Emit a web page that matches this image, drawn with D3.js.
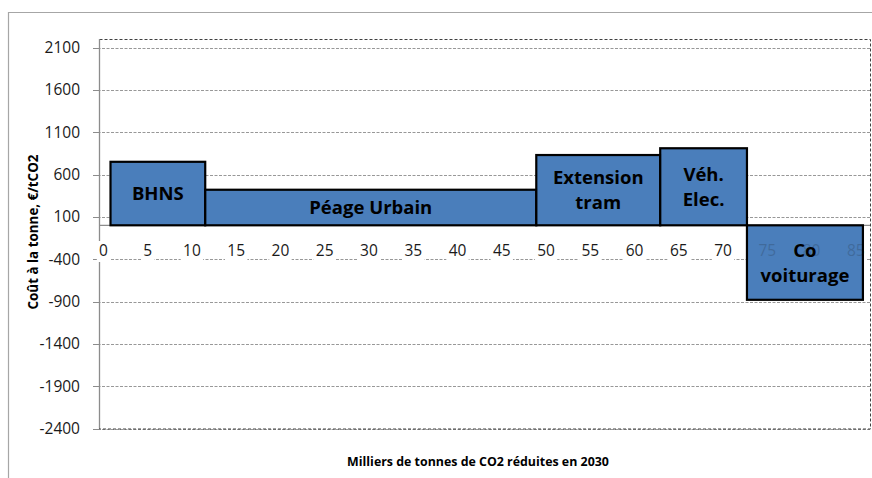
<!DOCTYPE html>
<html>
<head>
<meta charset="utf-8">
<script src="https://cdn.jsdelivr.net/npm/d3@7"></script>
<style>
  body { margin: 0; background: #fff; }
  svg { display: block; font-family: 'Open Sans', sans-serif; }
</style>
</head>
<body>
<svg id="chart" width="872" height="478"></svg>
<script>
// Courbe de coût marginal d'abattement (largeur = réduction, hauteur = coût)
const categories = ['BHNS', 'Péage Urbain', 'Extension tram', 'Véh. Elec.', 'Co voiturage']
const labelLines = [['BHNS'], ['Péage Urbain'], ['Extension', 'tram'], ['Véh.', 'Elec.'], ['Co', 'voiturage']]
const startReduction = 0.8
const reductions = [10.7, 37.4, 14.0, 9.8, 13.1]   // milliers de tCO2
const costs = [750, 420, 830, 910, -880]           // €/tCO2
const yTicks = [2100, 1600, 1100, 600, 100, -400, -900, -1400, -1900, -2400]
const xTicks = [0, 5, 10, 15, 20, 25, 30, 35, 40, 45, 50, 55, 60, 65, 70, 75, 80, 85]

const width = 872
const height = 478
const plot = { left: 99, right: 870, top: 39, bottom: 428.5 }

const svg = d3.select('#chart')

const x = d3.scaleLinear().domain([-0.5, 86.6]).range([plot.left, plot.right])
const y = d3.scaleLinear().domain([-2400, 2100]).range([428.5, 47.5])

const ends = Array.from(d3.cumsum(reductions), (d) => d + startReduction)
const bars = categories.map((name, i) => ({
  name,
  lines: labelLines[i],
  x0: i === 0 ? startReduction : ends[i - 1],
  x1: ends[i],
  cost: costs[i]
}))

// cadre extérieur
svg.append('path')
  .attr('d', `M${width + 2},12.5 H8.5 V${height + 2}`)
  .attr('fill', 'none')
  .attr('stroke', '#a6a6a6')
  .attr('stroke-width', 1.2)

// grille
svg.append('g')
  .selectAll('line')
  .data(yTicks)
  .join('line')
  .attr('x1', plot.left - 6)
  .attr('x2', plot.right)
  .attr('y1', (d) => Math.round(y(d)) + 0.5)
  .attr('y2', (d) => Math.round(y(d)) + 0.5)
  .attr('stroke', '#8c8c8c')
  .attr('stroke-dasharray', '3,1.5')
  .attr('stroke-width', 0.9)

// ticks y (plein, à gauche de l'axe)
svg.append('g')
  .selectAll('line')
  .data(yTicks)
  .join('line')
  .attr('x1', plot.left - 6)
  .attr('x2', plot.left)
  .attr('y1', (d) => Math.round(y(d)) + 0.5)
  .attr('y2', (d) => Math.round(y(d)) + 0.5)
  .attr('stroke', '#8c8c8c')

// bordure de la zone de traçage
svg.append('rect')
  .attr('x', plot.left + 0.5)
  .attr('y', plot.top + 0.5)
  .attr('width', plot.right - plot.left)
  .attr('height', plot.bottom - plot.top)
  .attr('fill', 'none')
  .attr('stroke', '#404040')
  .attr('stroke-dasharray', '3,2')

// axe y
svg.append('line')
  .attr('x1', plot.left + 0.5)
  .attr('x2', plot.left + 0.5)
  .attr('y1', plot.top)
  .attr('y2', plot.bottom)
  .attr('stroke', '#8c8c8c')
  .attr('stroke-width', 1.3)

// axe x à y = 0
svg.append('line')
  .attr('x1', plot.left)
  .attr('x2', plot.right)
  .attr('y1', y(0))
  .attr('y2', y(0))
  .attr('stroke', '#8c8c8c')
  .attr('stroke-width', 1.3)

svg.append('g')
  .selectAll('text')
  .data(yTicks)
  .join('text')
  .attr('x', 80)
  .attr('y', (d) => y(d) + 5.5)
  .attr('text-anchor', 'end')
  .attr('font-size', 15.5)
  .attr('fill', '#1a1a1a')
  .text((d) => d)

// fond blanc des étiquettes x (coupe la ligne -400)
svg.append('g')
  .selectAll('rect')
  .data(xTicks)
  .join('rect')
  .attr('x', (d) => x(d) - (String(d).length * 4.6 + 2))
  .attr('y', 241)
  .attr('width', (d) => String(d).length * 9.2 + 4)
  .attr('height', 21)
  .attr('fill', '#fff')

// barres opaques d'abord
svg.append('g')
  .selectAll('rect')
  .data(bars)
  .join('rect')
  .attr('x', (d) => x(d.x0))
  .attr('y', (d) => y(Math.max(0, d.cost)))
  .attr('width', (d) => x(d.x1) - x(d.x0))
  .attr('height', (d) => Math.abs(y(d.cost) - y(0)))
  .attr('fill', '#4a7ebb')

// étiquettes x (visibles à travers la barre négative)
svg.append('g')
  .selectAll('text')
  .data(xTicks)
  .join('text')
  .attr('x', (d) => x(d))
  .attr('y', 255.5)
  .attr('text-anchor', 'middle')
  .attr('font-size', 15.5)
  .attr('fill', '#1a1a1a')
  .text((d) => d)

// voile semi-transparent + contour
svg.append('g')
  .selectAll('rect')
  .data(bars)
  .join('rect')
  .attr('x', (d) => x(d.x0))
  .attr('y', (d) => y(Math.max(0, d.cost)))
  .attr('width', (d) => x(d.x1) - x(d.x0))
  .attr('height', (d) => Math.abs(y(d.cost) - y(0)))
  .attr('fill', '#4a7ebb')
  .attr('fill-opacity', 0.8)
  .attr('stroke', '#000')
  .attr('stroke-width', 2.2)

// étiquettes des barres
const lineH = 25
svg.append('g')
  .selectAll('text')
  .data(bars)
  .join('text')
  .attr('text-anchor', 'middle')
  .attr('font-size', 18.5)
  .attr('font-weight', 700)
  .attr('fill', '#000')
  .each(function (d) {
    const cx = (x(d.x0) + x(d.x1)) / 2
    const cy = (y(d.cost) + y(0)) / 2
    const n = d.lines.length
    d3.select(this)
      .selectAll('tspan')
      .data(d.lines)
      .join('tspan')
      .attr('x', cx)
      .attr('y', (_, j) => cy + (j - (n - 1) / 2) * lineH + 6.5)
      .text((t) => t)
  })

// titres des axes
svg.append('text')
  .attr('transform', `translate(38,232) rotate(-90)`)
  .attr('text-anchor', 'middle')
  .attr('font-size', 13.4)
  .attr('font-weight', 700)
  .attr('fill', '#000')
  .text('Coût à la tonne, €/tCO2')

svg.append('text')
  .attr('x', 478)
  .attr('y', 466)
  .attr('text-anchor', 'middle')
  .attr('font-size', 12.4)
  .attr('font-weight', 700)
  .attr('fill', '#000')
  .text('Milliers de tonnes de CO2 réduites en 2030')
</script>
</body>
</html>
